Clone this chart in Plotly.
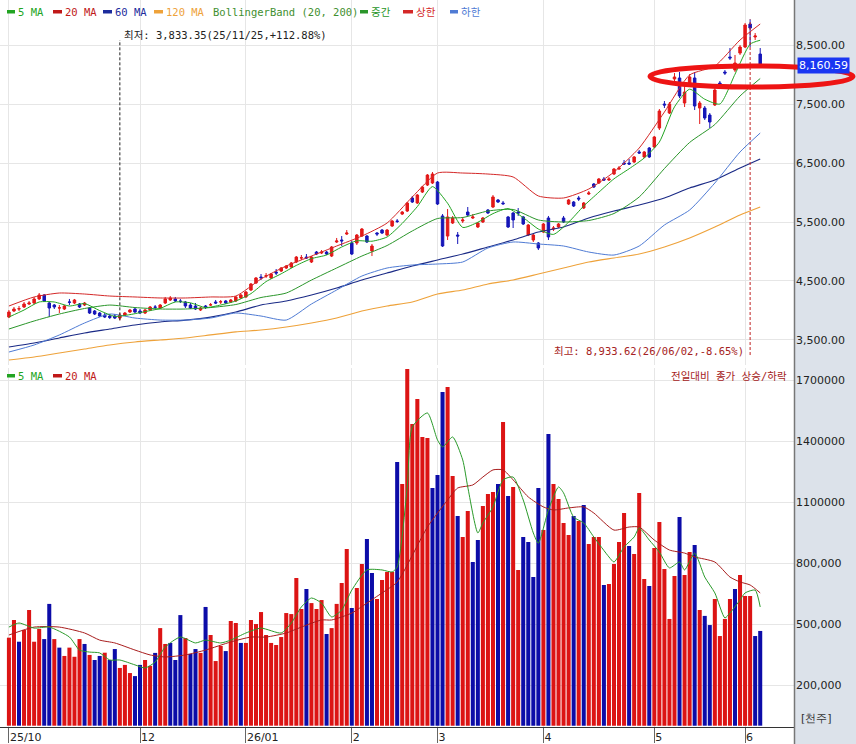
import pandas as pd
import plotly.graph_objects as go

# ---------------- data ----------------
holidays = ["2025-12-25", "2025-12-31", "2026-01-01", "2026-02-16", "2026-02-17",
            "2026-02-18", "2026-03-02", "2026-05-01", "2026-05-05", "2026-05-25", "2026-06-03"]
dates = [d.strftime("%Y-%m-%d") for d in pd.bdate_range("2025-10-24", "2026-06-05")
         if d.strftime("%Y-%m-%d") not in holidays]

tick_months = ["2025-10", "2025-12", "2026-01", "2026-02", "2026-03", "2026-04", "2026-05", "2026-06"]
tick_labels = ["25/10", "12", "26/01", "2", "3", "4", "5", "6"]

price_ticks = [3500, 4500, 5500, 6500, 7500, 8500]
vol_ticks = [200000, 500000, 800000, 1100000, 1400000, 1700000]
vol_tick_labels = ["200,000", "500,000", "800,000", "1100000", "1400000", "1700000"]

open_ = [3889, 3991, 4025, 4059, 4110, 4127, 4195, 4262, 4127, 4093,
         4042, 4025, 4144, 4127, 4110, 4093, 4042, 3991, 3957, 3923,
         3906, 3906, 3872, 3923, 3974, 4025, 3991, 3957, 4008, 4059,
         4042, 4127, 4178, 4195, 4161, 4144, 4093, 4076, 4008, 4076,
         4093, 4144, 4144, 4161, 4144, 4161, 4212, 4229, 4347, 4466,
         4567, 4584, 4551, 4652, 4669, 4720, 4737, 4822, 4890, 4906,
         4822, 4991, 4974, 4991, 4923, 5161, 5195, 5296, 5144, 5144,
         5262, 5262, 5008, 5313, 5364, 5279, 5432, 5517, 5635, 5686,
         5907, 5822, 6008, 6127, 6161, 6178, 5602, 5262, 5483, 5279,
         5517, 5669, 5568, 5415, 5500, 5703, 5754, 5873, 5822, 5585,
         5652, 5669, 5585, 5279, 5195, 5144, 5330, 5568, 5381, 5415,
         5568, 5805, 5839, 5907, 5737, 5974, 6144, 6161, 6229, 6212,
         6313, 6398, 6500, 6500, 6517, 6687, 6602, 6754, 6771, 7093,
         7500, 7347, 7924, 7941, 7517, 7856, 7941, 7432, 7432, 7313,
         7483, 7856, 8042, 8297, 8076, 8364, 8466, 8856, 8636, 8347]
high = [4008, 4059, 4076, 4144, 4161, 4229, 4296, 4279, 4144, 4110,
        4093, 4093, 4195, 4195, 4127, 4144, 4059, 4008, 3974, 3957,
        3940, 3940, 3957, 3974, 4025, 4042, 4025, 4025, 4076, 4093,
        4110, 4229, 4245, 4229, 4195, 4161, 4127, 4127, 4059, 4093,
        4127, 4178, 4178, 4178, 4195, 4245, 4279, 4330, 4466, 4567,
        4618, 4635, 4635, 4703, 4737, 4771, 4822, 4923, 4940, 4957,
        4923, 5008, 5025, 5008, 5093, 5229, 5262, 5364, 5178, 5296,
        5398, 5279, 5127, 5330, 5381, 5381, 5534, 5551, 5686, 5839,
        5941, 5974, 6110, 6313, 6347, 6195, 5635, 5720, 5602, 5330,
        5585, 5754, 5635, 5500, 5585, 5720, 5957, 5890, 5856, 5602,
        5669, 5737, 5602, 5466, 5296, 5161, 5483, 5602, 5432, 5483,
        5602, 5890, 5856, 5941, 5839, 6025, 6161, 6246, 6263, 6263,
        6415, 6449, 6551, 6568, 6619, 6720, 6704, 6771, 6958, 7415,
        7551, 7534, 8025, 8042, 7805, 8008, 8042, 7551, 7466, 7347,
        7771, 7890, 8076, 8449, 8331, 8500, 8873, 8933.62, 8703, 8449]
low = [3872, 3974, 3991, 4042, 4093, 4110, 4178, 4144, 3889, 4025,
       3957, 4008, 4093, 4110, 4042, 4076, 3940, 3923, 3889, 3872,
       3855, 3855, 3833.35, 3906, 3957, 3957, 3940, 3940, 3991, 4025,
       4025, 4110, 4161, 4144, 4127, 4042, 4025, 4008, 3991, 4025,
       4076, 4110, 4110, 4110, 4127, 4144, 4195, 4212, 4330, 4449,
       4517, 4551, 4534, 4601, 4652, 4703, 4720, 4805, 4856, 4873,
       4805, 4940, 4957, 4940, 4906, 5144, 5093, 5279, 4940, 5110,
       5246, 5144, 4923, 5262, 5296, 5262, 5415, 5483, 5618, 5669,
       5822, 5805, 5991, 6110, 6144, 5788, 5076, 5195, 5466, 5127,
       5483, 5602, 5551, 5398, 5483, 5635, 5737, 5822, 5788, 5398,
       5398, 5602, 5449, 5262, 5161, 5025, 5313, 5195, 5347, 5398,
       5483, 5788, 5754, 5856, 5720, 5957, 6076, 6144, 6195, 6195,
       6296, 6381, 6466, 6466, 6500, 6653, 6585, 6585, 6754, 7059,
       7432, 7330, 7890, 7602, 7449, 7822, 7398, 7161, 7229, 7093,
       7466, 7754, 7992, 8246, 8042, 8331, 8449, 8466, 8585, 8110]
close = [3974, 4025, 4030, 4110, 4127, 4195, 4262, 4161, 4042, 4059,
         4045, 4076, 4140, 4178, 4059, 4127, 3957, 3940, 3906, 3889,
         3880, 3872, 3923, 3957, 4008, 3974, 3957, 4008, 4059, 4055,
         4093, 4195, 4212, 4161, 4155, 4076, 4042, 4025, 4042, 4059,
         4097, 4127, 4148, 4127, 4178, 4229, 4262, 4313, 4449, 4551,
         4555, 4588, 4618, 4635, 4720, 4754, 4805, 4906, 4893, 4890,
         4906, 4957, 4991, 4957, 5076, 5178, 5180, 5313, 4957, 5279,
         5381, 5161, 5093, 5296, 5313, 5364, 5517, 5510, 5669, 5822,
         5839, 5957, 6093, 6296, 6313, 5805, 5093, 5585, 5568, 5262,
         5534, 5618, 5585, 5483, 5568, 5652, 5924, 5839, 5810, 5415,
         5534, 5652, 5466, 5449, 5279, 5059, 5466, 5246, 5398, 5466,
         5500, 5873, 5771, 5890, 5822, 5991, 6093, 6229, 6212, 6229,
         6398, 6415, 6483, 6483, 6602, 6670, 6687, 6602, 6941, 7381,
         7483, 7500, 7958, 7636, 7703, 7958, 7466, 7517, 7263, 7195,
         7737, 7788, 8025, 8280, 8195, 8466, 8839, 8788, 8653, 8160.59]

volume = [433000, 520000, 413000, 471000, 569000, 413000, 476000, 426000, 599000, 426000,
          384000, 343000, 384000, 339000, 426000, 402000, 348000, 323000, 343000, 359000,
          323000, 377000, 284000, 299000, 259000, 244000, 299000, 323000, 294000, 358000,
          480000, 402000, 407000, 323000, 544000, 431000, 353000, 377000, 358000, 584000,
          446000, 318000, 392000, 367000, 515000, 505000, 407000, 407000, 520000, 500000,
          559000, 446000, 407000, 397000, 436000, 554000, 549000, 726000, 574000, 672000,
          603000, 574000, 618000, 451000, 480000, 599000, 702000, 869000, 579000, 677000,
          795000, 918000, 751000, 623000, 717000, 756000, 756000, 1297000, 1189000, 1754000,
          1484000, 1607000, 1420000, 1415000, 1169000, 1233000, 1641000, 1666000, 1228000, 1031000,
          928000, 1056000, 805000, 913000, 1080000, 1139000, 1149000, 1189000, 1494000, 1130000,
          1174000, 766000, 928000, 903000, 731000, 1169000, 962000, 1435000, 1189000, 1115000,
          997000, 938000, 1031000, 1007000, 1085000, 894000, 928000, 928000, 692000, 697000,
          795000, 903000, 1046000, 884000, 844000, 1144000, 721000, 687000, 874000, 1002000,
          771000, 525000, 736000, 1026000, 741000, 854000, 889000, 569000, 540000, 495000,
          623000, 441000, 525000, 623000, 672000, 741000, 638000, 638000, 441000, 466000]
vol_dir = list("RRBRRRRBBR" "BRRRRBRBBR" "BBRRRBBRRB" "RRBBBRBBRB" "RRRBRRBRRR"
               "RRRRRRRRRB" "RRRBRRRRBR" "RBBRRRRBRR" "RRRRBBBRRB" "RRBBRRRBRB"
               "RRBBBBRBRR" "RRBRBRRRBR" "RRRBRRRBRR" "RRRBRRBRBB" "RRRRBRRRBB")

# moving averages / bands, read at sample bars
ma_idx = list(range(0, 150, 5)) + [149]
bb_upper = [4076, 4229, 4296, 4279, 4245, 4229, 4212, 4212, 4229, 4245, 4534, 4754, 4923, 5093, 5262,
            5483, 5924, 6330, 6330, 6313, 6263, 5941, 5907, 6059, 6347, 6754, 7364, 7992, 8144, 8585, 8856]
bb_mid = [3686, 3822, 3940, 4034, 4092, 4050, 4025, 4025, 4050, 4101, 4220, 4296, 4516, 4720, 4923,
          5101, 5348, 5559, 5576, 5686, 5712, 5534, 5500, 5525, 5644, 5924, 6406, 6848, 7152, 7636, 7932]
bb_lower = [3296, 3415, 3585, 3788, 3940, 3872, 3838, 3838, 3872, 3957, 3906, 3838, 4110, 4347, 4584,
            4720, 4771, 4788, 4822, 5059, 5161, 5127, 5093, 4991, 4940, 5093, 5449, 5703, 6161, 6687, 7008]
ma60 = [3381, 3449, 3534, 3619, 3686, 3754, 3805, 3838, 3889, 3974, 4093, 4161, 4262, 4381, 4517,
        4635, 4754, 4856, 4957, 5076, 5195, 5330, 5415, 5568, 5686, 5788, 5907, 6076, 6212, 6415, 6568]
ma120 = [3161, 3212, 3279, 3347, 3415, 3466, 3500, 3534, 3585, 3636, 3669, 3720, 3788, 3872, 3991,
         4076, 4144, 4279, 4347, 4449, 4517, 4618, 4720, 4822, 4890, 4957, 5076, 5229, 5415, 5618, 5754]
ma5_idx = list(range(0, 150, 3)) + [149]
ma5 = [3889, 4008, 4144, 4144, 4076, 4117, 3998, 3900, 3930, 3981,
       4035, 4144, 4130, 4049, 4093, 4161, 4286, 4490, 4622, 4764,
       4879, 4940, 5076, 5181, 5174, 5246, 5476, 5761, 6100, 5818,
       5408, 5496, 5642, 5727, 5574, 5381, 5290, 5496, 5771, 6005,
       6232, 6402, 6585, 6856, 7452, 7751, 7581, 7500, 8005, 8514, 8581]

vma5_idx = [0, 2, 5, 8, 12, 14, 16, 18, 20, 22, 25, 27, 29, 31, 34, 37, 39, 42, 44, 47, 50, 54, 56, 58,
            60, 62, 64, 66, 68, 71, 74, 76, 77, 79, 80, 83, 85, 86, 88, 90, 91, 93, 94, 96, 98, 100,
            102, 104, 105, 107, 109, 110, 112, 114, 116, 119, 120, 122, 124, 125, 127, 129, 131, 133,
            134, 136, 138, 140, 142, 143, 145, 146, 148, 149]
vma5 = [485000, 505000, 480000, 485000, 436000, 372000, 362000, 358000, 323000, 323000, 299000, 284000,
        313000, 387000, 436000, 407000, 421000, 407000, 421000, 456000, 480000, 456000, 505000, 584000,
        628000, 603000, 535000, 569000, 667000, 766000, 766000, 756000, 780000, 1174000, 1469000,
        1538000, 1405000, 1371000, 1420000, 1307000, 1174000, 948000, 997000, 1076000, 1209000, 1223000,
        1110000, 948000, 898000, 1061000, 1174000, 1145000, 1026000, 997000, 928000, 830000, 805000,
        879000, 928000, 972000, 913000, 854000, 776000, 805000, 766000, 849000, 731000, 653000, 530000,
        554000, 618000, 653000, 667000, 584000]
vma20_idx = [0, 5, 10, 15, 18, 21, 25, 28, 31, 35, 39, 44, 48, 51, 55, 58, 62, 64, 68, 71, 74, 77, 83,
             87, 89, 92, 94, 96, 98, 100, 103, 106, 108, 111, 114, 116, 120, 123, 125, 128, 131, 134,
             136, 140, 143, 145, 147, 149]
vma20 = [446000, 485000, 485000, 456000, 421000, 407000, 372000, 348000, 338000, 348000, 372000, 412000,
         436000, 436000, 456000, 485000, 520000, 520000, 554000, 603000, 653000, 707000, 977000, 1110000,
         1169000, 1184000, 1223000, 1258000, 1258000, 1209000, 1125000, 1076000, 1061000, 1071000,
         1076000, 1046000, 962000, 977000, 977000, 913000, 864000, 849000, 830000, 805000, 731000,
         707000, 692000, 653000]

# ---------------- styling / layout helpers ----------------
W, H = 856, 744
ML, MR, MT, MB = 0, 61, 0, 17
PW, PH = W - ML - MR, H - MT - MB


def px(x):
    return (x - ML) / PW


def py(y):
    return 1 - (y - MT) / PH


RED = "#e31818"
BLUE = "#1616b8"
VRED = "#dc1414"
VBLUE = "#0c0ca8"
MONO = "DejaVu Sans Mono, Noto Sans CJK KR, sans-serif"
SANS = "DejaVu Sans, sans-serif"

tick_vals = [next(d for d in dates if d.startswith(m)) for m in tick_months]

fig = go.Figure()
fig.add_trace(go.Candlestick(
    x=dates, open=open_, high=high, low=low, close=close,
    increasing=dict(line=dict(color=RED, width=1), fillcolor=RED),
    decreasing=dict(line=dict(color=BLUE, width=1), fillcolor=BLUE),
    whiskerwidth=0, xaxis="x", yaxis="y", showlegend=False, hoverinfo="skip"))


def add_line(idx, vals, color, yaxis="y", width=1.0):
    fig.add_trace(go.Scatter(x=[dates[i] for i in idx], y=vals, mode="lines",
                             line=dict(color=color, width=width, shape="spline", smoothing=0.6),
                             xaxis="x", yaxis=yaxis, showlegend=False, hoverinfo="skip"))


add_line(ma_idx, ma120, "#eea23a", width=1.2)
add_line(ma_idx, ma60, "#1a2a86", width=1.2)
add_line(ma_idx, bb_lower, "#4f7bd4")
add_line(ma_idx, bb_upper, "#d42828")
add_line(ma_idx, bb_mid, "#2a962a")
add_line(ma5_idx, ma5, "#22a422")

fig.add_trace(go.Bar(x=dates, y=volume, xaxis="x", yaxis="y2",
                     marker=dict(color=[VRED if d == "R" else VBLUE for d in vol_dir], line=dict(width=0)),
                     showlegend=False, hoverinfo="skip"))
add_line(vma20_idx, vma20, "#a81c1c", yaxis="y2")
add_line(vma5_idx, vma5, "#2a9a2a", yaxis="y2")

shapes = []
# right axis panel
shapes.append(dict(type="rect", xref="paper", yref="paper", x0=1, x1=W / PW, y0=py(H), y1=1,
                   fillcolor="#dce2ea", line=dict(width=0), layer="below"))
shapes.append(dict(type="line", xref="paper", yref="paper", x0=px(794.5), x1=px(794.5), y0=py(H), y1=1,
                   line=dict(color="#777777", width=1.5)))
# min / max markers
shapes.append(dict(type="line", xref="x", yref="y", x0=dates[22], x1=dates[22], y0=min(low), y1=8585,
                   line=dict(color="#222222", width=1, dash="3px,2px")))
imax = high.index(max(high))
shapes.append(dict(type="line", xref="x", yref="y", x0=dates[imax], x1=dates[imax], y0=3245, y1=max(high),
                   line=dict(color="#c02020", width=1, dash="3px,2px")))
# legend markers (price panel)
legend_items = [(7, 15, "#22a422"), (53, 62, "#c01818"), (103, 112, "#1c2c9c"), (154, 163, "#eea23a"),
                (360, 368, "#2a962a"), (403, 413, "#d42828"), (450, 458, "#4f7bd4"),
                ]
for x0, x1, c in legend_items:
    shapes.append(dict(type="rect", xref="paper", yref="paper", x0=px(x0), x1=px(x1), y0=py(13.5), y1=py(10),
                       fillcolor=c, line=dict(width=0)))
for x0, x1, c in [(7, 15, "#22a422"), (53, 62, "#c01818")]:
    shapes.append(dict(type="rect", xref="paper", yref="paper", x0=px(x0), x1=px(x1), y0=py(377.5), y1=py(374),
                       fillcolor=c, line=dict(width=0)))
# hand-drawn ellipse
shapes.append(dict(type="circle", xref="paper", yref="paper", x0=px(650), x1=px(853), y0=py(87), y1=py(66),
                   line=dict(color="#ee1414", width=5), layer="above"))

ann = []


def text(x, y, s, color, anchor="left", font=MONO, size=10.5, yref="paper", xref="paper", **kw):
    ann.append(dict(x=x, y=y, xref=xref, yref=yref, text=s, showarrow=False, xanchor=anchor, yanchor="middle",
                    font=dict(family=font, size=size, color=color), **kw))


text(px(16), py(12), "5 MA", "#22a422")
text(px(63), py(12), "20 MA", "#c01818")
text(px(113), py(12), "60 MA", "#1c2c9c")
text(px(164), py(12), "120 MA", "#eea23a")
text(px(211), py(12), "BollingerBand (20, 200)", "#3f8f2f")
text(px(369), py(12), "중간", "#2a962a")
text(px(414), py(12), "상한", "#d42828")
text(px(459), py(12), "하한", "#4f7bd4")
text(px(16), py(376), "5 MA", "#22a422")
text(px(63), py(376), "20 MA", "#c01818")

text(px(122), py(35), "최저: 3,833.35(25/11/25,+112.88%)", "#222222")
text(px(746), py(351), "최고: 8,933.62(26/06/02,-8.65%)", "#a52222", anchor="right")
text(px(789), py(376), "전일대비 종가 상승/하락", "#a52222", anchor="right")
text(px(799), py(718), "[천주]", "#333333", font=SANS, size=11)
text(px(797), close[-1], f"{close[-1]:,.2f}", "#ffffff", font=SANS, size=11, yref="y",
     bgcolor="#1a36f2", borderpad=1)

fig.update_layout(
    width=W, height=H, margin=dict(l=ML, r=MR, t=MT, b=MB),
    paper_bgcolor="white", plot_bgcolor="white", showlegend=False,
    bargap=0.2, boxgap=0.3, hovermode=False,
    xaxis=dict(type="category", range=[-1.77, 155.9], tickmode="array", tickvals=tick_vals,
               ticktext=tick_labels, ticks="outside", ticklen=15, tickcolor="#666666",
               ticklabelposition="outside right", showline=True, linecolor="#333333", linewidth=1,
               showgrid=True, gridcolor="#e6e6e6", anchor="y2", rangeslider=dict(visible=False),
               tickfont=dict(family=SANS, size=11, color="#222222"), fixedrange=True),
    yaxis=dict(domain=[py(365), 1], range=[3076, 9263], side="right", anchor="x", tickmode="array",
               tickvals=price_ticks, tickformat=",.2f", showgrid=True, gridcolor="#e6e6e6",
               zeroline=False, ticks="", tickfont=dict(family=SANS, size=11, color="#222222"),
               fixedrange=True),
    yaxis2=dict(domain=[0, py(368)], range=[-6400, 1759200], side="right", anchor="x", tickmode="array",
                tickvals=vol_ticks, ticktext=vol_tick_labels, showgrid=True, gridcolor="#e6e6e6",
                zeroline=False, ticks="", tickfont=dict(family=SANS, size=11, color="#222222"),
                fixedrange=True),
    shapes=shapes, annotations=ann,
)

fig.write_html("out.html")
